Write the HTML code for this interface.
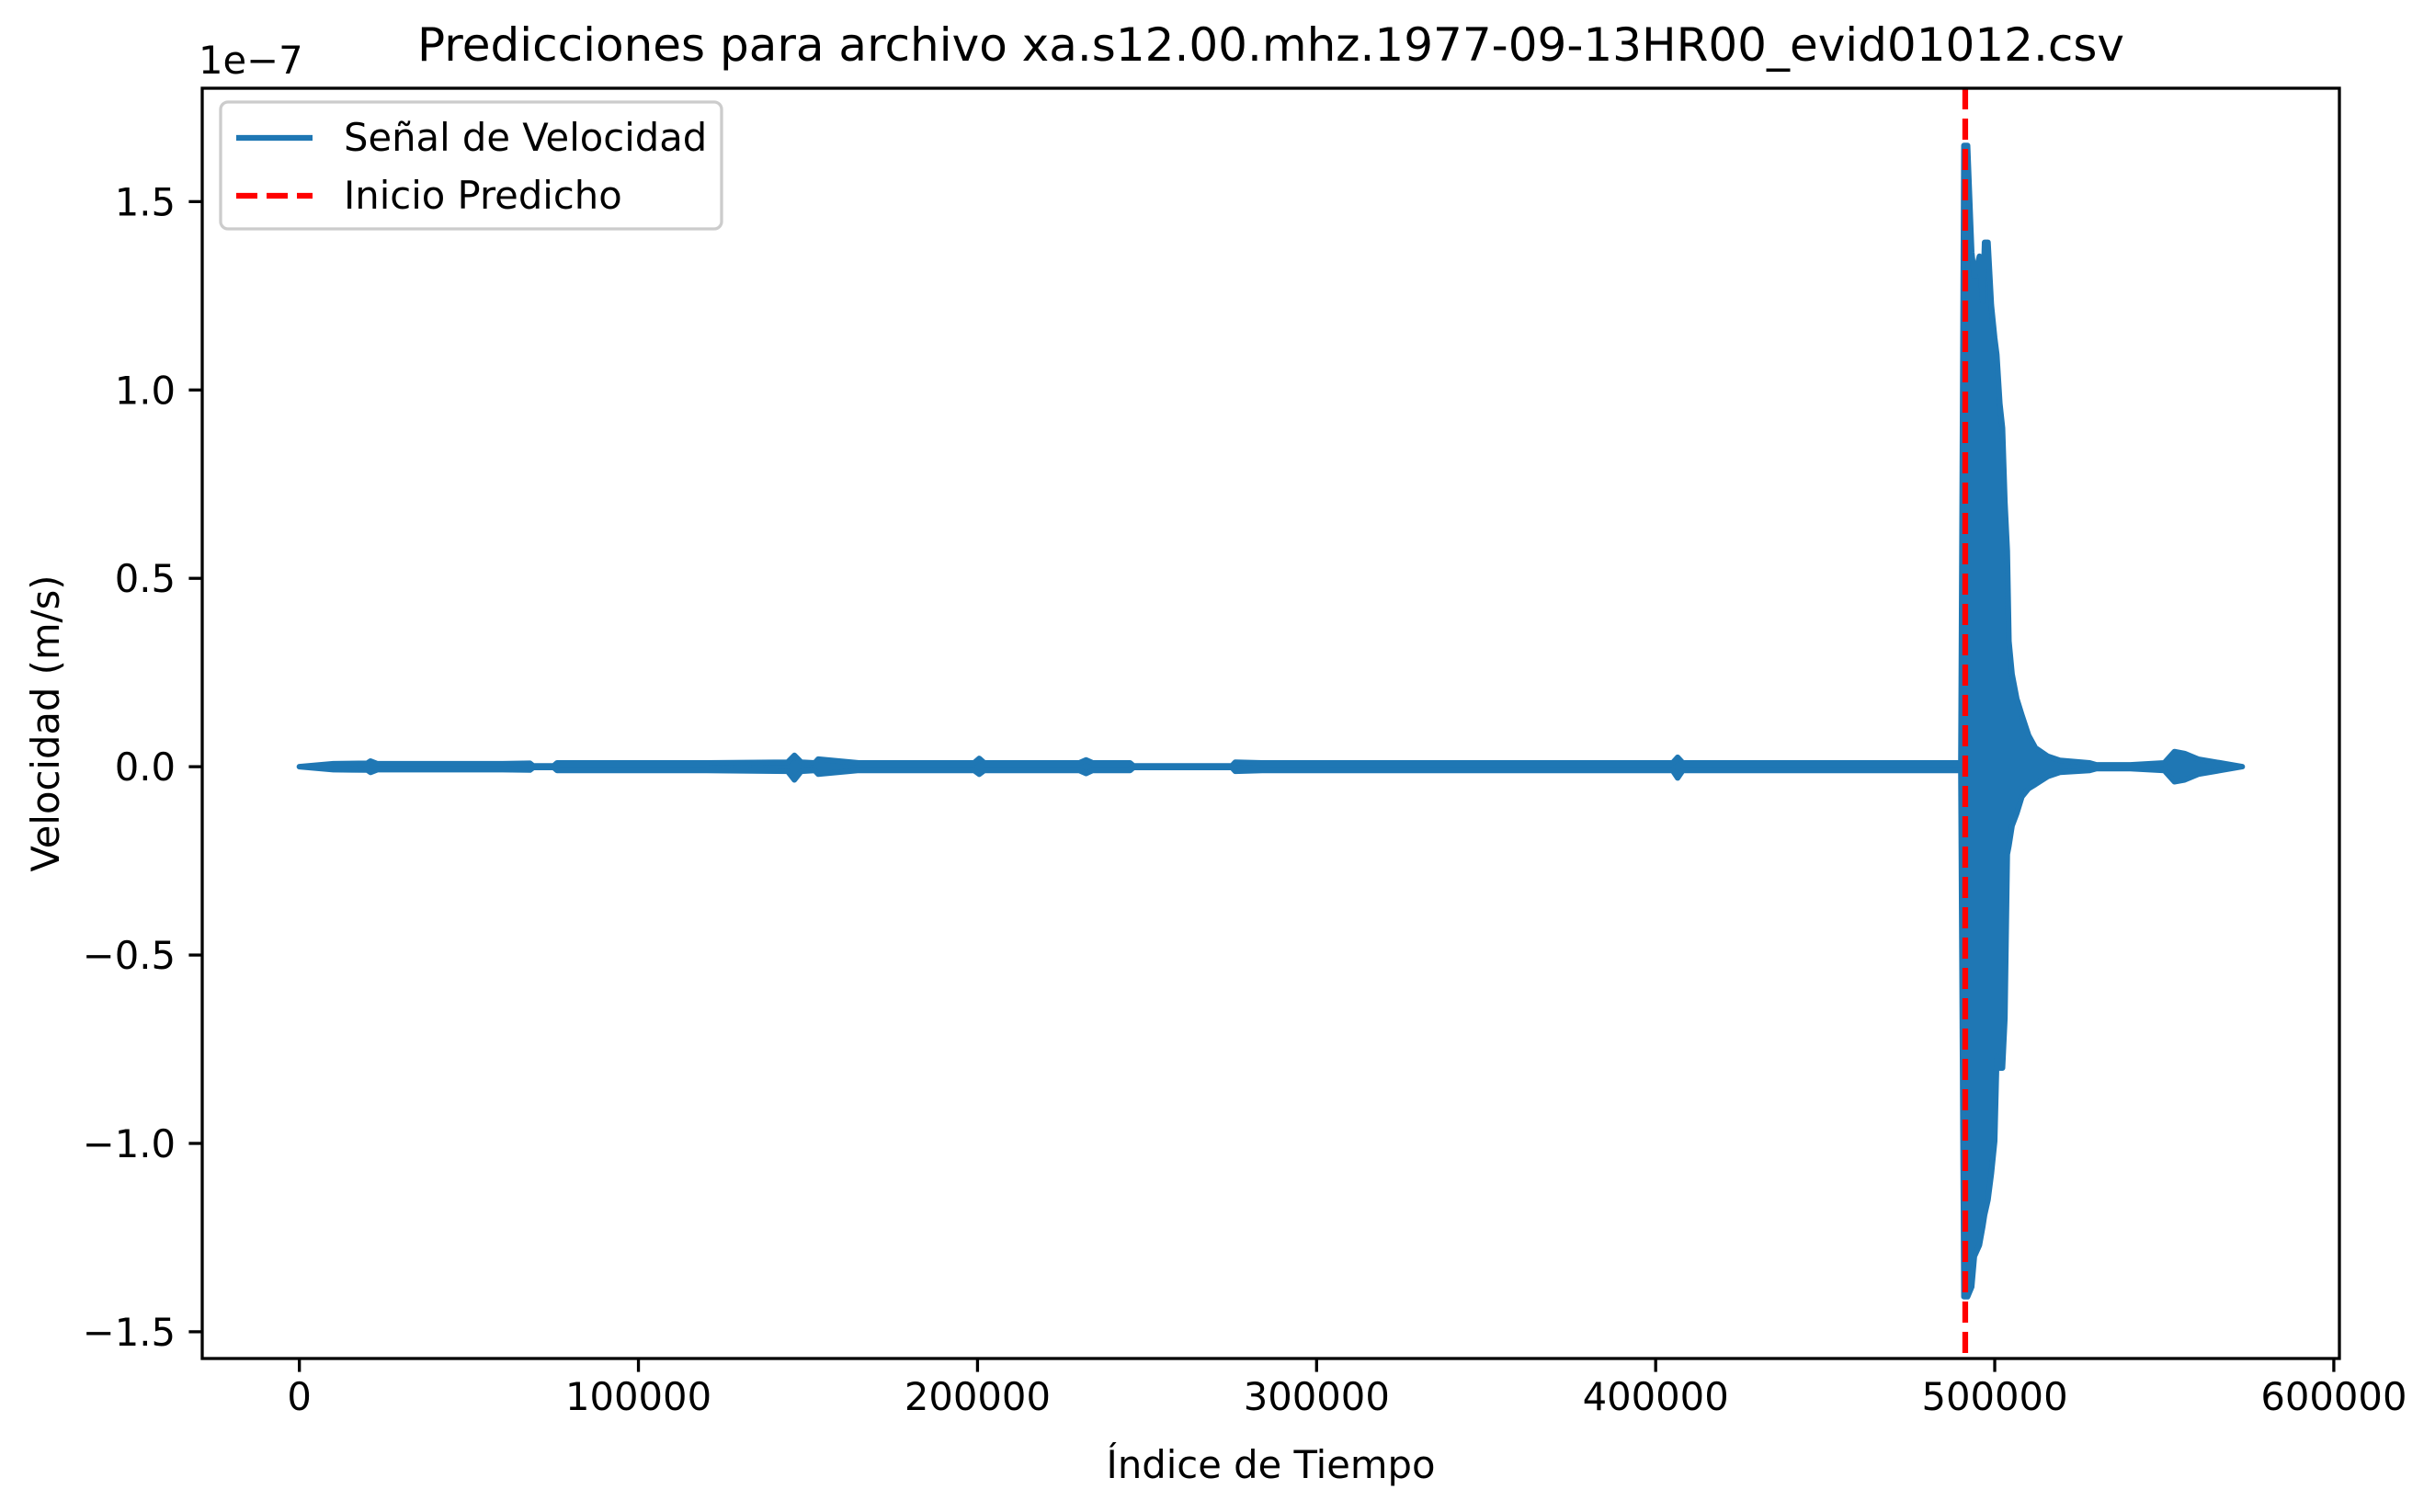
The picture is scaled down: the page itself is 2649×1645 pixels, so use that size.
<!DOCTYPE html>
<html><head><meta charset="utf-8"><style>
html,body{margin:0;padding:0;background:#fff;}
svg{display:block;font-family:"DejaVu Sans","Liberation Sans",sans-serif;}
</style></head><body>
<svg id="chart" width="2649" height="1645" viewBox="0 0 2649 1645">
<rect width="2649" height="1645" fill="#fff"/>
<g id="plot"></g>
</svg>
<script>
// ---- data ----
const xTicks = [0,100000,200000,300000,400000,500000,600000];
const xTickLabels = ["0","100000","200000","300000","400000","500000","600000"];
const yTicks = [-1.5,-1.0,-0.5,0.0,0.5,1.0,1.5];
const yTickLabels = ["\u22121.5","\u22121.0","\u22120.5","0.0","0.5","1.0","1.5"];
const sampleIdx = [0,10000,20000,21000,23000,60000,68000,69000,75000,76000,120000,144000,146000,148000,152000,153000,165000,199000,200500,202000,230000,232000,234000,245000,246000,275000,276000,284000,405000,406500,408000,440000,485000,490000,490900,492000,493200,494000,495500,496500,497000,498000,499000,500000,500600,501500,502300,503000,503700,504200,505100,506500,508000,510000,512000,515600,519200,528000,530000,540000,550000,553000,556000,560000,573000];
const upperEnv = [0,0.008,0.009,0.015,0.008,0.008,0.009,0.002,0.002,0.01,0.01,0.012,0.03,0.012,0.01,0.02,0.01,0.01,0.022,0.01,0.01,0.018,0.01,0.01,0.002,0.002,0.012,0.01,0.01,0.025,0.01,0.01,0.01,0.01,1.649,1.649,1.366,1.301,1.355,1.236,1.392,1.392,1.225,1.138,1.094,0.964,0.899,0.703,0.573,0.333,0.246,0.181,0.137,0.083,0.05,0.028,0.017,0.01,0.005,0.005,0.01,0.04,0.035,0.02,0];
const lowerEnv = [0,-0.008,-0.009,-0.015,-0.008,-0.008,-0.009,-0.002,-0.002,-0.01,-0.01,-0.012,-0.035,-0.012,-0.01,-0.02,-0.01,-0.01,-0.02,-0.01,-0.01,-0.018,-0.01,-0.01,-0.002,-0.002,-0.012,-0.01,-0.01,-0.03,-0.01,-0.01,-0.01,-0.01,-1.407,-1.407,-1.381,-1.30,-1.27,-1.22,-1.19,-1.15,-1.08,-0.994,-0.77,-0.80,-0.80,-0.668,-0.233,-0.21,-0.157,-0.124,-0.08,-0.058,-0.047,-0.026,-0.015,-0.01,-0.005,-0.005,-0.01,-0.04,-0.035,-0.02,0];
const predictedStart = [491300];

// ---- layout ----
const L=220, R=2545, T=96, B=1478;
const xMin=-28650, xMax=601650, yMin=-1.571, yMax=1.801;
const sx=v=>L+(v-xMin)/(xMax-xMin)*(R-L);
const sy=v=>B-(v-yMin)/(yMax-yMin)*(B-T);
const NS="http://www.w3.org/2000/svg";
const plot=document.getElementById('plot');
function mk(tag,attrs,parent){const e=document.createElementNS(NS,tag);for(const k in attrs)e.setAttribute(k,attrs[k]);(parent||plot).appendChild(e);return e;}

const defs=mk('defs',{});
const cp=mk('clipPath',{id:'clip'},defs);
mk('rect',{x:L,y:T,width:R-L,height:B-T},cp);

const sigG=mk('g',{'clip-path':'url(#clip)'});


let d='M'+sx(sampleIdx[0])+','+sy(upperEnv[0]);
for(let i=1;i<sampleIdx.length;i++)d+=' L'+sx(sampleIdx[i]).toFixed(1)+','+sy(upperEnv[i]).toFixed(1);
for(let i=sampleIdx.length-1;i>=0;i--)d+=' L'+sx(sampleIdx[i]).toFixed(1)+','+sy(lowerEnv[i]).toFixed(1);
d+='Z';
const sig=mk('path',{d:d,fill:'#1f77b4',stroke:'#1f77b4','stroke-width':6,'stroke-linejoin':'round'},sigG);



predictedStart.forEach(v=>{
  const ln=mk('line',{x1:sx(v),x2:sx(v),y1:T,y2:B,stroke:'#ff0000','stroke-width':6.25,'stroke-dasharray':'23,10'});
  
  
});

const sp=mk('rect',{x:L,y:T,width:R-L,height:B-T,fill:'none',stroke:'#000','stroke-width':3.3});



xTicks.forEach((v,i)=>{
  const x=sx(v);
  const t=mk('line',{x1:x,x2:x,y1:B,y2:B+14.6,stroke:'#000','stroke-width':3.3});
  
  
  const tx=mk('text',{x:x,y:B+56,'text-anchor':'middle','font-size':41.7,fill:'#000'});
  tx.textContent=xTickLabels[i];
  
  
});
yTicks.forEach((v,i)=>{
  const y=sy(v);
  const t=mk('line',{x1:L-14.6,x2:L,y1:y,y2:y,stroke:'#000','stroke-width':3.3});
  
  
  const tx=mk('text',{x:L-29,y:y+15,'text-anchor':'end','font-size':41.7,fill:'#000'});
  tx.textContent=yTickLabels[i];
  
  
});

let e;
e=mk('text',{x:(L+R)/2,y:66,'text-anchor':'middle','font-size':50,fill:'#000'});
e.textContent='Predicciones para archivo xa.s12.00.mhz.1977-09-13HR00_evid01012.csv';


e=mk('text',{x:L-4,y:80,'font-size':41.7,fill:'#000'});
e.textContent='1e\u22127';


e=mk('text',{x:(L+R)/2,y:1608,'text-anchor':'middle','font-size':41.7,fill:'#000'});
e.textContent='Índice de Tiempo';


e=mk('text',{x:0,y:0,'text-anchor':'middle','font-size':41.7,fill:'#000',transform:'translate(64,'+((T+B)/2)+') rotate(-90)'});
e.textContent='Velocidad (m/s)';



const lg=mk('g',{});


mk('rect',{x:240,y:111,width:545,height:138,rx:8,fill:'#fff','fill-opacity':0.8,stroke:'#cccccc','stroke-width':3.3},lg);
e=mk('line',{x1:257,x2:340,y1:150,y2:150,stroke:'#1f77b4','stroke-width':6.25},lg);


e=mk('text',{x:374,y:164,'font-size':41.7,fill:'#000'},lg);
e.textContent='Señal de Velocidad';


e=mk('line',{x1:257,x2:340,y1:213,y2:213,stroke:'#ff0000','stroke-width':6.25,'stroke-dasharray':'23,10'},lg);


e=mk('text',{x:374,y:227,'font-size':41.7,fill:'#000'},lg);
e.textContent='Inicio Predicho';


</script>
</body></html>
